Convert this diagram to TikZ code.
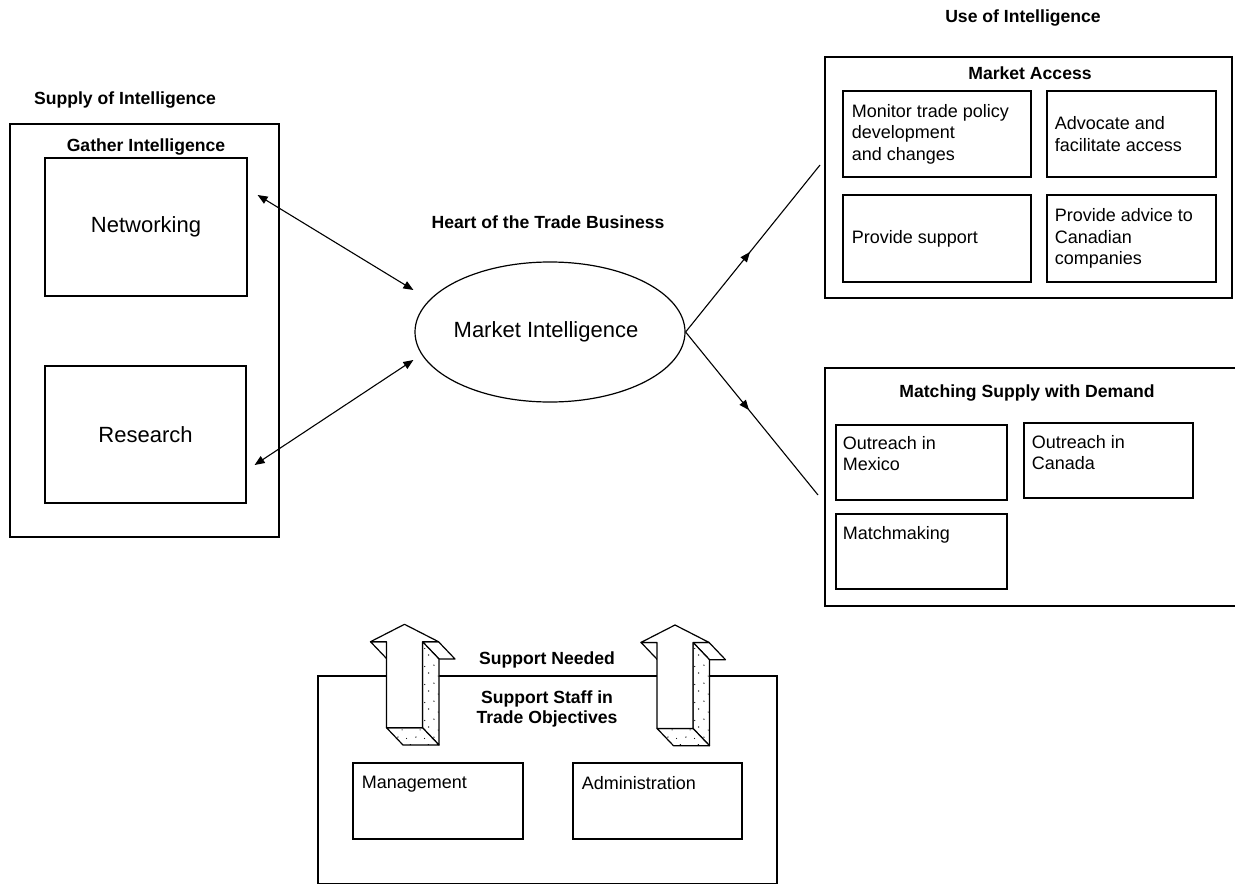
\documentclass[tikz,border=0pt]{standalone}
\usepackage{fontspec}
\setmainfont{Liberation Sans}
\usetikzlibrary{arrows.meta,shapes.geometric,fit,decorations.markings,patterns.meta}

% sparse stipple for the shaded faces of the block arrows
\tikzdeclarepattern{
  name=speckle,
  type=uncolored,
  bounding box={(0pt,0pt) and (9pt,9pt)},
  tile size={(9pt,9pt)},
  code={
    \fill (1pt,1.5pt) circle (0.35pt);
    \fill (5.5pt,0.8pt) circle (0.3pt);
    \fill (3.2pt,5.2pt) circle (0.3pt);
    \fill (7.5pt,6.8pt) circle (0.35pt);
  }
}

\tikzset{
  outerbox/.style={draw, line width=1pt, inner sep=0pt},
  innerbox/.style={draw, line width=0.6pt, inner sep=0pt},
  heading/.style={font=\bfseries\fontsize{8.8}{10}\selectfont, inner sep=0pt, align=center},
  bigtext/.style={font=\fontsize{11}{13}\selectfont, inner sep=0pt},
  boxtext/.style={font=\fontsize{9}{10.8}\selectfont, align=left, inner sep=0pt},
  link/.style={line width=0.55pt},
  headtip/.tip={Triangle[length=5pt,width=4pt]},
  midarrow/.style={postaction={decorate}, decoration={markings,
      mark=at position 0.48 with {\arrow{Triangle[length=5pt,width=4pt]}}}},
  % hollow upward block arrow drawn in pseudo-3D, tip at the pic origin
  pics/blockarrow/.style={code={
    \def\hh{34}\def\hs{18}\def\hy{17.4}\def\ln{103.4}\def\dx{16.5}\def\dy{17.3}
    \begin{scope}[line width=0.6pt, line join=round]
      \filldraw[fill=white] (-\hh,\hy) -- (-\hs,\hy) -- (-\hs+\dx,\hy+\dy) -- (-\hh+\dx,\hy+\dy) -- cycle;
      \filldraw[fill=white] (\hs,\hy) -- (\hh,\hy) -- (\hh+\dx,\hy+\dy) -- (\hs+\dx,\hy+\dy) -- cycle;
      \draw[fill=white, postaction={pattern=speckle, pattern color=black}]
        (\hs,\hy) -- (\hs+\dx,\hy+\dy) -- (\hs+\dx,\ln+\dy) -- (\hs,\ln) -- cycle;
      \draw[fill=white, postaction={pattern=speckle, pattern color=black}]
        (-\hs,\ln) -- (\hs,\ln) -- (\hs+\dx,\ln+\dy) -- (-\hs+\dx,\ln+\dy) -- cycle;
      \filldraw[fill=white] (0,0) -- (\hh,\hy) -- (\hs,\hy) -- (\hs,\ln) -- (-\hs,\ln)
        -- (-\hs,\hy) -- (-\hh,\hy) -- cycle;
    \end{scope}
  }}
}

\begin{document}
\begin{tikzpicture}[x=0.5pt, y=-0.5pt]
\useasboundingbox (0,0) rectangle (1235,883);

% ---------- section headings ----------
\node[heading] (hsupply) at (125,100) {Supply of Intelligence};
\node[heading] (huse)    at (1023,18) {Use of Intelligence};
\node[heading] (hheart)  at (548,222) {Heart of the Trade Business};
\node[heading] (hneed)   at (547,660) {Support Needed};

% ---------- supply side ----------
\node[outerbox, fit={(10,124) (279,537)}] (gather) {};
\node[heading] (tgather) at (146,147) {Gather Intelligence};
\node[innerbox, fit={(45,158) (247,296)}] (net) {};
\node[bigtext] (tnet) at (net.center) {Networking};
\node[innerbox, fit={(45,366) (246,503)}] (res) {};
\node[bigtext] (tres) at (res.center) {Research};

% ---------- centre ----------
\node[draw, ellipse, line width=0.6pt, minimum width=135pt, minimum height=70pt, inner sep=0pt]
  (mi) at (550,332) {};
\node[bigtext] (tmi) at (546,332) {Market Intelligence};

% ---------- market access ----------
\node[outerbox, fit={(825,57) (1232,298)}] (ma) {};
\node[heading] (tma) at (1030,73) {Market Access};
\node[innerbox, fit={(843,91) (1031,177)}] (mon) {};
\node[boxtext, anchor=west] (tmon) at ([shift={(9,0)}]mon.west) {Monitor trade policy\\development\\and changes};
\node[innerbox, fit={(1047,91) (1216,177)}] (adv) {};
\node[boxtext, anchor=west] (tadv) at ([shift={(8,0)}]adv.west) {Advocate and\\facilitate access};
\node[innerbox, fit={(843,195) (1031,282)}] (sup) {};
\node[boxtext, anchor=west] (tsup) at ([shift={(9,0)}]sup.west) {Provide support};
\node[innerbox, fit={(1047,195) (1216,282)}] (cad) {};
\node[boxtext, anchor=west] (tcad) at ([shift={(8,0)}]cad.west) {Provide advice to\\Canadian\\companies};

% ---------- matching supply with demand ----------
\node[outerbox, fit={(825,368) (1245,606)}] (md) {};
\node[heading] (tmd) at (1027,393) {Matching Supply with Demand};
\node[innerbox, fit={(836,425) (1007,500)}] (omx) {};
\node[boxtext, anchor=north west] (tomx) at ([shift={(7,11.5)}]omx.north west) {Outreach in\\Mexico};
\node[innerbox, fit={(1024,423) (1193,498)}] (oca) {};
\node[boxtext, anchor=north west] (toca) at ([shift={(8,12.5)}]oca.north west) {Outreach in\\Canada};
\node[innerbox, fit={(836,514) (1007,589)}] (mm) {};
\node[boxtext, anchor=north west] (tmm) at ([shift={(7,12.5)}]mm.north west) {Matchmaking};

% ---------- support staff ----------
\node[outerbox, fit={(318,676) (777,884)}] (staff) {};
\node[innerbox, fit={(353,763) (523,839)}] (mgmt) {};
\node[boxtext, anchor=north west] (tmgmt) at ([shift={(9,13.5)}]mgmt.north west) {Management};
\node[innerbox, fit={(573,763) (742,839)}] (adm) {};
\node[boxtext, anchor=north west] (tadm) at ([shift={(9,13.5)}]adm.north west) {Administration};

% block arrows rising out of the staff box
\pic at (404.5,624.3) {blockarrow};
\pic at (675,625) {blockarrow};
\node[heading] (tstaff) at (547,709) {Support Staff in\\Trade Objectives};

% ---------- connectors ----------
\draw[link, headtip-headtip] ([shift={(-1,-42)}]mi.west) -- ([shift={(10,-32)}]net.east);
\draw[link, headtip-headtip] ([shift={(-1,28)}]mi.west) -- ([shift={(8,30.5)}]res.east);
\draw[link, midarrow] (mi.east) -- ([shift={(-4,-12.5)}]ma.west);
\draw[link, midarrow] (mi.east) -- ([shift={(-6,8)}]md.west);
\end{tikzpicture}
\end{document}
